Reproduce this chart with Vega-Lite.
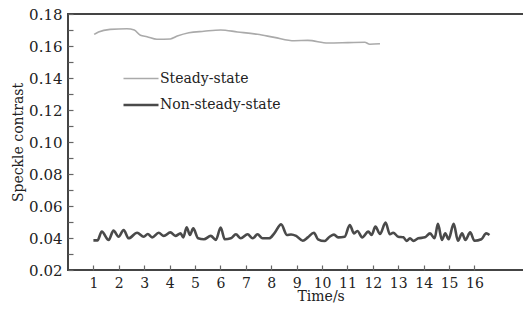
{
  "$schema": "https://vega.github.io/schema/vega-lite/v6.json",
  "autosize": "none",
  "width": 470,
  "height": 256,
  "padding": {"left": 68, "top": 14, "right": 0, "bottom": 45},
  "background": "white",
  "config": {
    "view": {"stroke": "#444", "strokeWidth": 2},
    "axis": {"labelFont": "DejaVu Serif", "titleFont": "DejaVu Serif", "labelFontSize": 15, "titleFontSize": 14, "labelColor": "#222", "titleColor": "#222", "titleFontWeight": "normal", "domain": false, "tickColor": "#666", "tickWidth": 1.2, "tickSize": 5, "offset": -5, "grid": false, "labelOverlap": false},
    "legend": {"labelFont": "DejaVu Serif"}
  },
  "data": {"values": [
    {"t": 1.03, "v": 0.1673, "s": "Steady-state"},
    {"t": 1.2, "v": 0.1688, "s": "Steady-state"},
    {"t": 1.66, "v": 0.1704, "s": "Steady-state"},
    {"t": 2.32, "v": 0.1708, "s": "Steady-state"},
    {"t": 2.61, "v": 0.17, "s": "Steady-state"},
    {"t": 2.85, "v": 0.1667, "s": "Steady-state"},
    {"t": 3.11, "v": 0.1658, "s": "Steady-state"},
    {"t": 3.5, "v": 0.1642, "s": "Steady-state"},
    {"t": 4.03, "v": 0.1644, "s": "Steady-state"},
    {"t": 4.3, "v": 0.1662, "s": "Steady-state"},
    {"t": 4.76, "v": 0.1683, "s": "Steady-state"},
    {"t": 5.35, "v": 0.1692, "s": "Steady-state"},
    {"t": 6.01, "v": 0.17, "s": "Steady-state"},
    {"t": 6.67, "v": 0.1688, "s": "Steady-state"},
    {"t": 7.46, "v": 0.1673, "s": "Steady-state"},
    {"t": 8.12, "v": 0.1654, "s": "Steady-state"},
    {"t": 8.91, "v": 0.1633, "s": "Steady-state"},
    {"t": 9.44, "v": 0.1635, "s": "Steady-state"},
    {"t": 10.23, "v": 0.1619, "s": "Steady-state"},
    {"t": 11.02, "v": 0.1621, "s": "Steady-state"},
    {"t": 11.68, "v": 0.1623, "s": "Steady-state"},
    {"t": 11.88, "v": 0.1611, "s": "Steady-state"},
    {"t": 12.28, "v": 0.1614, "s": "Steady-state"},
    {"t": 1.0, "v": 0.0385, "s": "Non-steady-state"},
    {"t": 1.16, "v": 0.0385, "s": "Non-steady-state"},
    {"t": 1.33, "v": 0.044, "s": "Non-steady-state"},
    {"t": 1.6, "v": 0.0388, "s": "Non-steady-state"},
    {"t": 1.79, "v": 0.0446, "s": "Non-steady-state"},
    {"t": 1.99, "v": 0.0408, "s": "Non-steady-state"},
    {"t": 2.19, "v": 0.045, "s": "Non-steady-state"},
    {"t": 2.39, "v": 0.0398, "s": "Non-steady-state"},
    {"t": 2.72, "v": 0.0433, "s": "Non-steady-state"},
    {"t": 2.98, "v": 0.0408, "s": "Non-steady-state"},
    {"t": 3.14, "v": 0.0425, "s": "Non-steady-state"},
    {"t": 3.31, "v": 0.0404, "s": "Non-steady-state"},
    {"t": 3.57, "v": 0.0433, "s": "Non-steady-state"},
    {"t": 3.77, "v": 0.0413, "s": "Non-steady-state"},
    {"t": 4.03, "v": 0.0435, "s": "Non-steady-state"},
    {"t": 4.23, "v": 0.0413, "s": "Non-steady-state"},
    {"t": 4.43, "v": 0.0429, "s": "Non-steady-state"},
    {"t": 4.54, "v": 0.0404, "s": "Non-steady-state"},
    {"t": 4.67, "v": 0.0467, "s": "Non-steady-state"},
    {"t": 4.8, "v": 0.0419, "s": "Non-steady-state"},
    {"t": 4.93, "v": 0.046, "s": "Non-steady-state"},
    {"t": 5.12, "v": 0.0398, "s": "Non-steady-state"},
    {"t": 5.35, "v": 0.0392, "s": "Non-steady-state"},
    {"t": 5.62, "v": 0.0413, "s": "Non-steady-state"},
    {"t": 5.82, "v": 0.0388, "s": "Non-steady-state"},
    {"t": 6.01, "v": 0.0465, "s": "Non-steady-state"},
    {"t": 6.17, "v": 0.0392, "s": "Non-steady-state"},
    {"t": 6.41, "v": 0.0398, "s": "Non-steady-state"},
    {"t": 6.61, "v": 0.0423, "s": "Non-steady-state"},
    {"t": 6.8, "v": 0.0398, "s": "Non-steady-state"},
    {"t": 7.07, "v": 0.0423, "s": "Non-steady-state"},
    {"t": 7.27, "v": 0.0398, "s": "Non-steady-state"},
    {"t": 7.46, "v": 0.0423, "s": "Non-steady-state"},
    {"t": 7.66, "v": 0.0398, "s": "Non-steady-state"},
    {"t": 7.92, "v": 0.0398, "s": "Non-steady-state"},
    {"t": 8.12, "v": 0.0429, "s": "Non-steady-state"},
    {"t": 8.39, "v": 0.0485, "s": "Non-steady-state"},
    {"t": 8.62, "v": 0.0419, "s": "Non-steady-state"},
    {"t": 8.78, "v": 0.0422, "s": "Non-steady-state"},
    {"t": 8.98, "v": 0.0413, "s": "Non-steady-state"},
    {"t": 9.24, "v": 0.0383, "s": "Non-steady-state"},
    {"t": 9.44, "v": 0.0404, "s": "Non-steady-state"},
    {"t": 9.68, "v": 0.0433, "s": "Non-steady-state"},
    {"t": 9.84, "v": 0.0392, "s": "Non-steady-state"},
    {"t": 10.1, "v": 0.0381, "s": "Non-steady-state"},
    {"t": 10.3, "v": 0.0408, "s": "Non-steady-state"},
    {"t": 10.47, "v": 0.0421, "s": "Non-steady-state"},
    {"t": 10.63, "v": 0.0404, "s": "Non-steady-state"},
    {"t": 10.89, "v": 0.0408, "s": "Non-steady-state"},
    {"t": 11.09, "v": 0.0481, "s": "Non-steady-state"},
    {"t": 11.26, "v": 0.0429, "s": "Non-steady-state"},
    {"t": 11.39, "v": 0.0444, "s": "Non-steady-state"},
    {"t": 11.58, "v": 0.0404, "s": "Non-steady-state"},
    {"t": 11.82, "v": 0.044, "s": "Non-steady-state"},
    {"t": 11.95, "v": 0.0419, "s": "Non-steady-state"},
    {"t": 12.1, "v": 0.0471, "s": "Non-steady-state"},
    {"t": 12.28, "v": 0.0425, "s": "Non-steady-state"},
    {"t": 12.5, "v": 0.0496, "s": "Non-steady-state"},
    {"t": 12.67, "v": 0.0423, "s": "Non-steady-state"},
    {"t": 12.8, "v": 0.0433, "s": "Non-steady-state"},
    {"t": 13.0, "v": 0.0408, "s": "Non-steady-state"},
    {"t": 13.2, "v": 0.0404, "s": "Non-steady-state"},
    {"t": 13.33, "v": 0.0382, "s": "Non-steady-state"},
    {"t": 13.46, "v": 0.0398, "s": "Non-steady-state"},
    {"t": 13.6, "v": 0.0382, "s": "Non-steady-state"},
    {"t": 13.79, "v": 0.0398, "s": "Non-steady-state"},
    {"t": 14.05, "v": 0.0404, "s": "Non-steady-state"},
    {"t": 14.25, "v": 0.0429, "s": "Non-steady-state"},
    {"t": 14.43, "v": 0.0398, "s": "Non-steady-state"},
    {"t": 14.56, "v": 0.0488, "s": "Non-steady-state"},
    {"t": 14.72, "v": 0.0388, "s": "Non-steady-state"},
    {"t": 14.85, "v": 0.0429, "s": "Non-steady-state"},
    {"t": 14.98, "v": 0.0392, "s": "Non-steady-state"},
    {"t": 15.18, "v": 0.0488, "s": "Non-steady-state"},
    {"t": 15.35, "v": 0.0383, "s": "Non-steady-state"},
    {"t": 15.51, "v": 0.0429, "s": "Non-steady-state"},
    {"t": 15.64, "v": 0.0388, "s": "Non-steady-state"},
    {"t": 15.83, "v": 0.0435, "s": "Non-steady-state"},
    {"t": 16.0, "v": 0.0383, "s": "Non-steady-state"},
    {"t": 16.27, "v": 0.0392, "s": "Non-steady-state"},
    {"t": 16.46, "v": 0.0429, "s": "Non-steady-state"},
    {"t": 16.59, "v": 0.0419, "s": "Non-steady-state"}
  ]},
  "mark": {"type": "line", "interpolate": "monotone"},
  "encoding": {
    "x": {"field": "t", "type": "quantitative", "scale": {"domain": [0, 18.5], "nice": false},
      "axis": {"title": "Time/s", "values": [1,2,3,4,5,6,7,8,9,10,11,12,13,14,15,16], "labelFontSize": 14, "labelPadding": 6, "titlePadding": -1, "labelFlush": false, "titleAnchor": "start", "titleX": 229}},
    "y": {"field": "v", "type": "quantitative", "scale": {"domain": [0.02, 0.18], "nice": false, "zero": false},
      "axis": {"title": "Speckle contrast", "values": [0.02,0.03,0.04,0.05,0.06,0.07,0.08,0.09,0.10,0.11,0.12,0.13,0.14,0.15,0.16,0.17,0.18], "format": ".2f", "labelExpr": "round(datum.value*100) % 2 == 0 ? datum.label : ''", "labelPadding": 6, "titlePadding": 3, "labelFlush": false}},
    "color": {"field": "s", "type": "nominal", "scale": {"domain": ["Steady-state", "Non-steady-state"], "range": ["#aaaaaa", "#4a4a4a"]},
      "legend": {"title": null, "orient": "none", "legendX": 54, "legendY": 46, "symbolType": "stroke", "symbolSize": 1225, "labelFontSize": 14, "labelColor": "#222", "labelOffset": 0, "rowPadding": -9, "padding": 0}},
    "strokeWidth": {"field": "s", "type": "nominal", "scale": {"domain": ["Steady-state", "Non-steady-state"], "range": [1.6, 2.6]}, "legend": null}
  }
}
